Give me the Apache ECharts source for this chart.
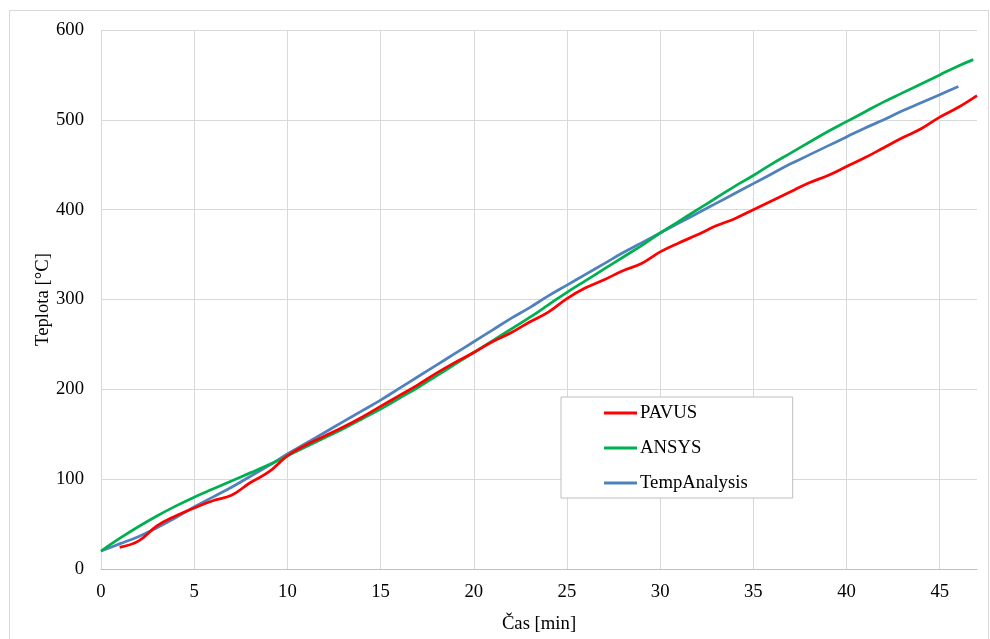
<!DOCTYPE html>
<html>
<head>
<meta charset="utf-8">
<script src="https://cdn.jsdelivr.net/npm/echarts@6/dist/echarts.min.js"></script>
<style>
  html, body { margin: 0; padding: 0; background: #fff; }
  #frame { position: absolute; left: 9px; top: 10px; width: 980px; height: 640px; border: 1px solid #d9d9d9; box-sizing: border-box; }
  #chart { position: absolute; left: 0; top: 0; width: 990px; height: 639px; }
</style>
</head>
<body>
<div id="frame"></div>
<div id="chart"></div>
<script>
// Time [min] and measured / computed temperature [°C]
const pavusTime = [1, 2, 3, 4, 5, 6, 7, 8, 9, 10, 11, 12, 13, 14, 15, 16, 17, 18, 19, 20, 21, 22, 23, 24, 25, 26, 27, 28, 29, 30, 31, 32, 33, 34, 35, 36, 37, 38, 39, 40, 41, 42, 43, 44, 45, 46, 47];
const pavusTemp = [24, 31, 48, 59, 68, 76, 82, 96, 108, 126, 138, 148, 158, 169, 181, 193, 205, 218, 230, 241, 253, 263, 275, 286, 301, 313, 322, 332, 340, 353, 363, 372, 382, 390, 400, 410, 420, 430, 438, 448, 458, 469, 480, 490, 503, 514, 527];

const ansysTime = [0, 1, 2, 3, 4, 5, 6, 7, 8, 9, 10, 11, 12, 13, 14, 15, 16, 17, 18, 19, 20, 21, 22, 23, 24, 25, 26, 27, 28, 29, 30, 31, 32, 33, 34, 35, 36, 37, 38, 39, 40, 41, 42, 43, 44, 45, 46, 46.8];
const ansysTemp = [20, 34, 47, 59, 70, 80, 89, 98, 107, 116, 126, 136, 146, 156, 167, 178, 190, 202, 215, 228, 241, 254, 267, 280, 294, 308, 321, 334, 347, 360, 374, 387, 400, 413, 426, 438, 451, 463, 475, 487, 498, 509, 520, 530, 540, 550, 560, 567];

const tempTime = [0, 1, 2, 3, 4, 5, 6, 7, 8, 9, 10, 11, 12, 13, 14, 15, 16, 17, 18, 19, 20, 21, 22, 23, 24, 25, 26, 27, 28, 29, 30, 31, 32, 33, 34, 35, 36, 37, 38, 39, 40, 41, 42, 43, 44, 45, 46];
const tempTemp = [20, 28, 36, 46, 57, 69, 80, 91, 103, 115, 128, 140, 152, 164, 176, 188, 201, 214, 227, 240, 253, 266, 279, 291, 304, 316, 328, 340, 352, 363, 374, 385, 396, 407, 418, 429, 440, 451, 461, 471, 481, 491, 500, 510, 519, 528, 537];

const seriesNames = ['PAVUS', 'ANSYS', 'TempAnalysis'];
const seriesColors = ['#ff0000', '#00b050', '#4f81bd'];

const zip = (xs, ys) => xs.map((x, i) => [x, ys[i]]);

const font = '"Liberation Serif", "Times New Roman", serif';
const fontSize = 18.7;
const chart = echarts.init(document.getElementById('chart'), null, { renderer: 'canvas' });

// vertical grid lines at 0..45; the extra line at the axis max stays hidden
const vLineColors = [];
for (let i = 0; i < 10; i++) vLineColors.push('#d9d9d9');
vLineColors.push('rgba(0,0,0,0)');

chart.setOption({
  animation: false,
  grid: { left: 101, right: 13, top: 30, bottom: 70 },
  legend: {
    data: seriesNames,
    orient: 'vertical',
    left: 561,
    top: 397,
    padding: [6, 45, 5, 43],
    itemGap: 15,
    itemWidth: 33,
    itemHeight: 3,
    borderColor: '#bfbfbf',
    borderWidth: 1,
    backgroundColor: '#fff',
    icon: 'rect',
    textStyle: { fontFamily: font, fontSize: fontSize, lineHeight: 20, color: '#000', padding: [0, 0, 0, -2] }
  },
  xAxis: {
    type: 'value',
    min: 0,
    max: 47,
    interval: 5,
    name: 'Čas [min]',
    nameLocation: 'middle',
    nameGap: 46,
    nameMoveOverlap: false,
    nameTextStyle: { fontFamily: font, fontSize: fontSize, color: '#000' },
    axisLine: { show: true, lineStyle: { color: '#bfbfbf', width: 1 } },
    axisTick: { show: false },
    axisLabel: { fontFamily: font, fontSize: fontSize, color: '#000', margin: 14, showMaxLabel: false },
    splitLine: { show: true, lineStyle: { color: vLineColors, width: 1 } }
  },
  yAxis: {
    type: 'value',
    min: 0,
    max: 600,
    interval: 100,
    name: 'Teplota [°C]',
    nameLocation: 'middle',
    nameGap: 48,
    nameMoveOverlap: false,
    nameTextStyle: { fontFamily: font, fontSize: fontSize, color: '#000' },
    axisLine: { show: false },
    axisTick: { show: false },
    axisLabel: { fontFamily: font, fontSize: fontSize, color: '#000', margin: 17 },
    splitLine: { show: true, lineStyle: { color: '#d9d9d9', width: 1 } }
  },
  series: [
    { name: seriesNames[0], type: 'line', data: zip(pavusTime, pavusTemp) },
    { name: seriesNames[1], type: 'line', data: zip(ansysTime, ansysTemp) },
    { name: seriesNames[2], type: 'line', data: zip(tempTime, tempTemp) }
  ].map((s, i) => Object.assign(s, {
    smooth: 0.4,
    showSymbol: false,
    symbol: 'none',
    color: seriesColors[i],
    lineStyle: { color: seriesColors[i], width: 2.75 },
    z: 3 - i
  }))
});
</script>
</body>
</html>
